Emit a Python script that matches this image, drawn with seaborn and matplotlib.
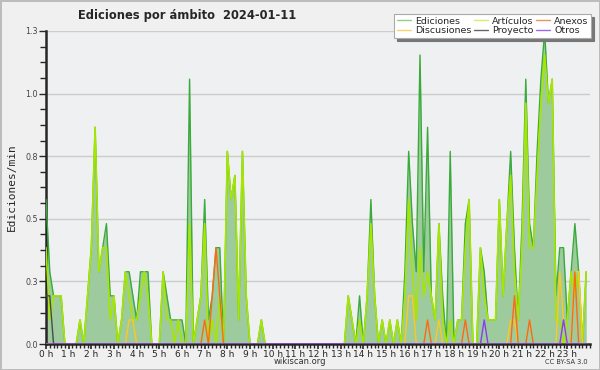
import numpy as np
import pandas as pd
import seaborn as sns
import matplotlib.pyplot as plt
from matplotlib.ticker import FixedLocator, MultipleLocator

# edits per 10 minutes, 144 slots (00:00 -> 23:50)
ediciones = [6, 3, 2, 2, 2, 0, 0, 0, 0, 1, 0, 2, 4, 9, 3, 4, 5, 2, 2, 0, 1, 3, 3, 2,
             1, 3, 3, 3, 0, 0, 0, 3, 2, 1, 1, 1, 1, 0, 11, 0, 1, 2, 6, 1, 2, 4, 4, 0,
             8, 6, 7, 1, 8, 2, 0, 0, 0, 1, 0, 0, 0, 0, 0, 0, 0, 0, 0, 0, 0, 0, 0, 0,
             0, 0, 0, 0, 0, 0, 0, 0, 2, 1, 0, 2, 0, 2, 6, 2, 0, 1, 0, 1, 0, 1, 0, 3,
             8, 5, 3, 12, 3, 9, 2, 1, 5, 2, 0, 8, 0, 1, 1, 5, 6, 0, 0, 4, 3, 1, 1, 1,
             6, 2, 5, 8, 4, 1, 5, 11, 5, 4, 8, 11, 13, 10, 11, 2, 4, 4, 1, 3, 5, 3, 0, 3]
articulos = [4, 1, 2, 2, 2, 0, 0, 0, 0, 1, 0, 2, 4, 9, 3, 4, 4, 1, 2, 0, 1, 3, 2, 1,
             1, 2, 3, 2, 0, 0, 0, 3, 1, 1, 0, 1, 0, 0, 5, 0, 1, 2, 5, 0, 1, 0, 2, 0,
             8, 6, 7, 1, 8, 2, 0, 0, 0, 1, 0, 0, 0, 0, 0, 0, 0, 0, 0, 0, 0, 0, 0, 0,
             0, 0, 0, 0, 0, 0, 0, 0, 2, 1, 0, 1, 0, 2, 5, 2, 0, 1, 0, 1, 0, 1, 0, 2,
             6, 3, 1, 4, 2, 3, 2, 1, 5, 1, 0, 1, 0, 1, 1, 4, 6, 0, 0, 4, 2, 1, 1, 1,
             6, 2, 5, 7, 3, 1, 4, 10, 4, 4, 7, 10, 12, 10, 11, 1, 1, 0, 1, 3, 2, 3, 0, 3]
# sparse series: {slot: edits}
discusiones = {22: 1, 23: 1, 96: 2, 97: 2, 104: 1, 123: 1, 124: 1, 136: 3, 137: 1, 140: 3, 141: 3}
anexos = {42: 1, 44: 2, 45: 4, 46: 2, 101: 1, 111: 1, 124: 2, 128: 1, 140: 3}
proyecto = {0: 2, 1: 2}
otros = {116: 1, 137: 1}

hour_labels = [f"{h} h" for h in range(24)]
y_ticks = [0.0, 0.26, 0.52, 0.78, 1.04, 1.30]
y_labels = ["0.0", "0.3", "0.5", "0.8", "1.0", "1.3"]


def sparse(d):
    out = [0] * 144
    for k, v in d.items():
        out[k] = v
    return out


hours = np.arange(144) / 6
df = pd.DataFrame({
    "hora": hours,
    "Ediciones": np.array(ediciones) / 10,
    "Artículos": np.array(articulos) / 10,
    "Anexos": np.array(sparse(anexos)) / 10,
    "Discusiones": np.array(sparse(discusiones)) / 10,
    "Proyecto": np.array(sparse(proyecto)) / 10,
    "Otros": np.array(sparse(otros)) / 10,
})

sns.set_theme(style="ticks")
plt.rcParams['font.family'] = ['DejaVu Sans']

fig = plt.figure(figsize=(6, 3.7), dpi=100, facecolor="#f0f0f0",
                 edgecolor="#bcbcbc", linewidth=2)
ax = fig.add_axes([46 / 600, 1 - 344 / 370, 544 / 600, 313 / 370])
ax.set_facecolor("#eef0f2")

colors = {
    "Ediciones": "#3aaa3a",
    "Artículos": "#a6e600",
    "Anexos": "#ff6a10",
    "Discusiones": "#ffc81e",
    "Proyecto": "#4a4a4a",
    "Otros": "#8a3cf0",
}
widths = {"Ediciones": 1.0, "Artículos": 1.2}

ax.fill_between(df["hora"], df["Ediciones"], color="#9dcb9d", lw=0, zorder=1)
for name in ["Ediciones", "Artículos", "Discusiones", "Anexos", "Proyecto", "Otros"]:
    sns.lineplot(data=df, x="hora", y=name, ax=ax, color=colors[name],
                 lw=widths.get(name, 1.0), zorder=3, legend=False)

ax.set_xlim(0, 24)
ax.set_ylim(0, 1.3)
ax.set_xticks(range(24))
ax.set_xticklabels(hour_labels, fontsize=6.5)
ax.xaxis.set_minor_locator(MultipleLocator(1 / 6))
ax.yaxis.set_major_locator(FixedLocator(y_ticks))
ax.set_yticklabels(y_labels, fontsize=5.8, color="#444444")
ax.yaxis.set_minor_locator(MultipleLocator(0.065))
ax.tick_params(axis="x", which="major", length=3.5, width=1.2, pad=0.5)
ax.tick_params(axis="x", which="minor", length=3, width=1)
ax.tick_params(axis="y", which="major", length=5, width=1, pad=1)
ax.tick_params(axis="y", which="minor", length=4, width=1)
ax.grid(axis="y", color="#cccccc", lw=1)
for s in ["top", "right"]:
    ax.spines[s].set_visible(False)
for s in ["left", "bottom"]:
    ax.spines[s].set_linewidth(1.8)
ax.set_xlabel("")
ax.set_ylabel("Ediciones/min", family="DejaVu Sans Mono", fontsize=8, labelpad=6)

order = ["Ediciones", "Discusiones", "Artículos", "Proyecto", "Anexos", "Otros"]
leg_colors = {"Ediciones": "#8fd08f", "Artículos": "#d2ee6a", "Anexos": "#f0905a",
              "Discusiones": "#f5d56a", "Proyecto": "#666666", "Otros": "#9a6af0"}
proxies = [plt.Line2D([], [], color=leg_colors[n], lw=1) for n in order]
leg = fig.legend(proxies, order, ncol=3, loc="upper right",
                 bbox_to_anchor=(596 / 600, 1 - 9 / 370), fontsize=6.8,
                 frameon=True, fancybox=False, shadow={"color": "#777777", "alpha": 1},
                 edgecolor="#aaaaaa", framealpha=1, handlelength=1.5,
                 handletextpad=0.4, columnspacing=0.3, labelspacing=0.05,
                 borderpad=0.3)
leg.get_frame().set_linewidth(0.8)

fig.text(187 / 600, 1 - 16 / 370, "Ediciones por ámbito  2024-01-11",
         ha="center", va="center", fontsize=8.3, fontweight="bold")
fig.text(300 / 600, 1 - 362 / 370, "wikiscan.org", ha="center", va="center",
         fontsize=6, color="#333333")
fig.text(588 / 600, 1 - 362 / 370, "CC BY-SA 3.0", ha="right", va="center",
         fontsize=4.8, color="#333333")

plt.savefig("out.png", dpi=100)
